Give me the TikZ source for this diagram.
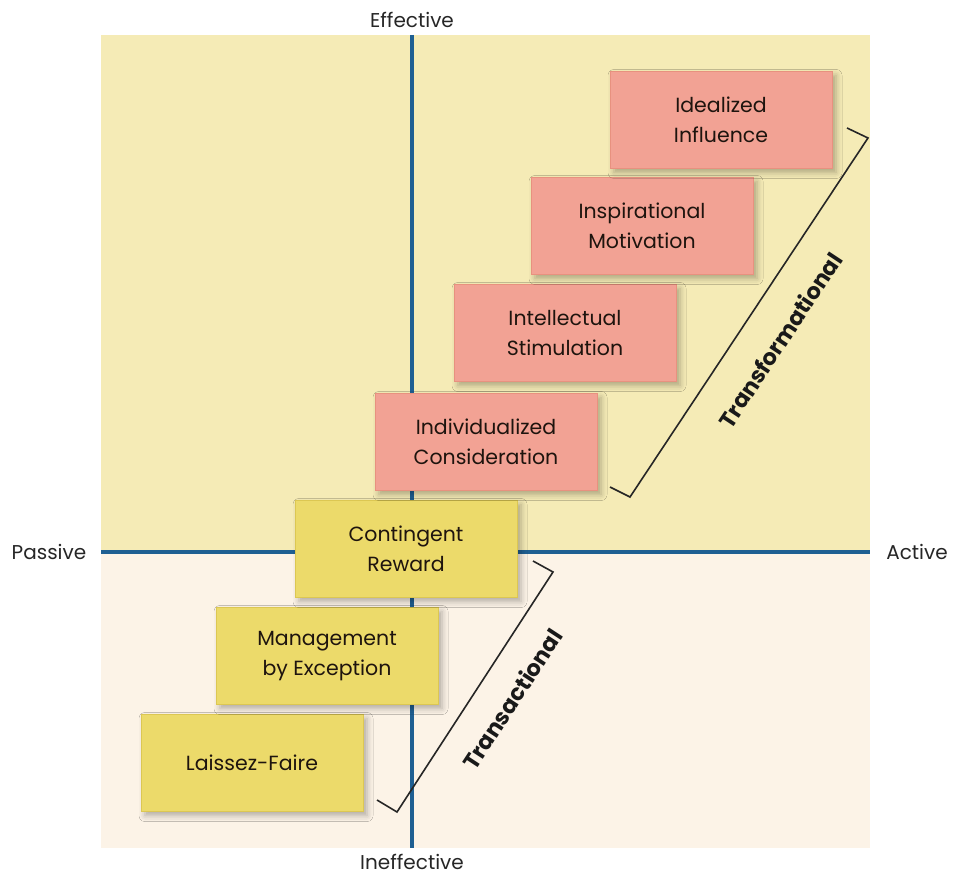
\documentclass[tikz,border=0pt]{standalone}
\usepackage{fontspec}
\setmainfont{Poppins}
\usetikzlibrary{shadows.blur}

\definecolor{upperbg}{HTML}{F5EBB6}
\definecolor{lowerbg}{HTML}{FCF3E7}
\definecolor{axisblue}{HTML}{1F5F92}
\definecolor{pinkfill}{HTML}{F2A294}
\definecolor{pinkedge}{HTML}{E8917F}
\definecolor{yellowfill}{HTML}{ECDA6A}
\definecolor{yellowedge}{HTML}{DCC752}
\definecolor{inktext}{HTML}{1E140E}

\tikzset{
  axisline/.style={draw=axisblue, line width=3.6pt},
  axislabel/.style={font=\fontsize{20}{24}\selectfont, text=black!85},
  stylebox/.style={minimum width=222pt, minimum height=97pt, align=center,
    inner sep=0pt, line width=1pt, text=inktext,
    font=\fontsize{20.5}{30}\selectfont,
    blur shadow={shadow xshift=4pt, shadow yshift=-4pt,
      shadow blur radius=6pt, shadow opacity=30}},
  transbox/.style={stylebox, fill=pinkfill, draw=pinkedge},
  actbox/.style={stylebox, fill=yellowfill, draw=yellowedge},
  bracketline/.style={draw=black!85, line width=1.6pt, line join=miter},
  bracketlabel/.style={font=\bfseries\fontsize{22.5}{26}\selectfont, text=black!90}
}

\begin{document}
\begin{tikzpicture}[x=1pt, y=-1pt]
  \useasboundingbox (0,0) rectangle (953,877);

  % quadrant background
  \fill[upperbg] (101,35) rectangle (870,552);
  \fill[lowerbg] (101,552) rectangle (870,848);

  % axes
  \coordinate (west) at (101,552);
  \coordinate (east) at (870,552);
  \coordinate (north) at (412,35);
  \coordinate (south) at (412,848);
  \draw[axisline] (west) -- (east);
  \draw[axisline] (north) -- (south);

  % axis labels
  \node[axislabel] (eff) at (412,20) {Effective};
  \node[axislabel] (ineff) at (412,862) {Ineffective};
  \node[axislabel] (pas) at (49,552) {Passive};
  \node[axislabel] (act) at (917,552) {Active};

  % staircase of leadership styles
  \node[actbox] (lf) at (252,763) {Laissez-Faire};
  \node[actbox] (mbe) at (327,656) {Management\\by Exception};
  \node[actbox] (cr) at (406,549) {Contingent\\Reward};
  \node[transbox] (ic) at (486,442) {Individualized\\Consideration};
  \node[transbox] (is) at (565,333) {Intellectual\\Stimulation};
  \node[transbox] (im) at (642,226) {Inspirational\\Motivation};
  \node[transbox] (ii) at (721,120) {Idealized\\Influence};

  % transformational bracket
  \coordinate (tf1) at (847,128);
  \coordinate (tf2) at (868,138);
  \coordinate (tf3) at (630,497);
  \coordinate (tf4) at (610,487);
  \draw[bracketline] (tf1) -- (tf2) -- (tf3) -- (tf4);
  \node[bracketlabel, rotate=56.5] (tflabel) at (780,340) {Transformational};

  % transactional bracket
  \coordinate (ta1) at (533,561);
  \coordinate (ta2) at (553,572);
  \coordinate (ta3) at (397,812);
  \coordinate (ta4) at (377,800);
  \draw[bracketline] (ta1) -- (ta2) -- (ta3) -- (ta4);
  \node[bracketlabel, rotate=56.8] (talabel) at (512,699) {Transactional};
\end{tikzpicture}
\end{document}
